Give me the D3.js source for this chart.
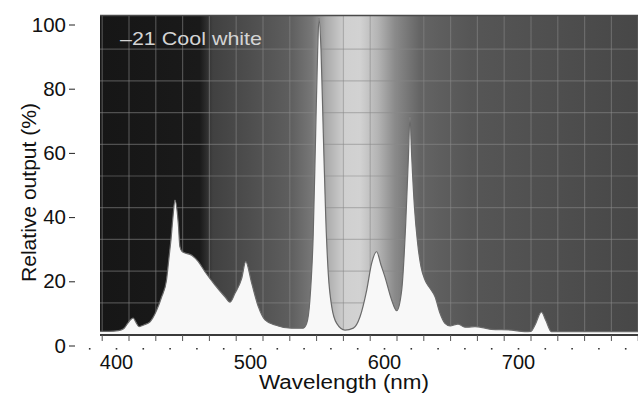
<!DOCTYPE html>
<html>
<head>
<meta charset="utf-8">
<script src="https://cdn.jsdelivr.net/npm/d3@7"></script>
<style>
  body { margin: 0; background: #fff; }
  text { font-family: "Liberation Sans", Arial, sans-serif; }
</style>
</head>
<body>
<div class="chart"></div>
<script>
// spectrum (nm, % relative output)
var wavelengths = [378, 385, 392, 396, 399, 401.5, 403.2, 405, 407.5, 411, 415.7, 420.7, 424.4, 428, 429.9, 431.3,
  432.8, 434.3, 436.8, 438, 439.8, 446.8, 451.7, 456.7, 464.2, 471.6, 475.4, 479.1, 484.1, 487.1, 491.6, 496.5,
  501.5, 509, 521.4, 530, 532.6, 535, 537.5, 539.3, 540.8, 541.8, 543.3, 545, 546.8, 548.7, 551.3, 555, 561.2,
  567.4, 572.4, 577.4, 581.1, 584.8, 588, 591, 596, 599.8, 603.5, 606.5, 608.5, 609.7, 611, 613, 615.4, 617.9,
  620.9, 624.6, 628.4, 632.1, 635.8, 639.6, 645.5, 650.7, 653, 658.2, 665.7, 670.4, 685.3, 695.3, 700, 703,
  707.8, 711, 715.2, 730, 760, 781];
var output = [1, 1, 1.2, 1.8, 3.5, 4.8, 5.2, 4, 2.5, 3, 4, 7.7, 11.9, 17.2, 24.5, 29.8,
  37, 42.4, 35, 27.7, 26.1, 25, 23, 19.8, 15.6, 11.9, 10.2, 13, 17.7, 23, 16.1, 8.8,
  4.6, 3, 2, 2, 3.5, 10.9, 31.9, 63.5, 89.7, 99.7, 89.7, 63.5, 37.2, 19.3, 8.8, 3.5, 1.4,
  2, 5.6, 14, 22.5, 26.1, 22, 18.2, 10.9, 7.5, 14, 35, 56, 68.7, 56, 40.3, 28.8, 21.4,
  17.2, 14.6, 11.9, 6.7, 3.5, 2.7, 3.3, 2.3, 2.3, 2.5, 2, 1.6, 1.4, 0.9, 1, 3,
  7.1, 4.5, 0.9, 0.9, 0.9, 0.9];
var xTicks = [400, 500, 600, 700];
var yTicks = [0, 20, 40, 60, 80, 100];
var lampLabel = "\u201321 Cool white";

var width = 638, height = 393;
var svg = d3.select(".chart").append("svg")
  .attr("width", width)
  .attr("height", height);

var plot = { left: 100, right: 638, top: 15, bottom: 335 };

// the scanned spectrum has its own grid...
var x = d3.scaleLinear().domain([400, 700]).range([129, 531]);
var y = d3.scaleLinear().domain([0, 100]).range([334.5, 17.5]);
// ...and the printed axes sit a bit off from it
var xAxisScale = d3.scaleLinear().domain([400, 700]).range([116, 518]);
var yAxisScale = d3.scaleLinear().domain([0, 100]).range([345.5, 24.5]);

var defs = svg.append("defs");
defs.append("clipPath").attr("id", "clip")
  .append("rect")
  .attr("x", plot.left).attr("y", plot.top)
  .attr("width", plot.right - plot.left).attr("height", plot.bottom - plot.top);

// background shading of the scan, dark at blue end, bright band near yellow
var shade = [
  [100, "#161616"], [200, "#1a1a1a"], [206, "#2c2c2c"], [213, "#414141"], [250, "#4e4e4e"],
  [290, "#5e5e5e"], [312, "#777777"], [326, "#aaaaaa"], [345, "#d0d0d0"], [360, "#d2d2d2"],
  [378, "#b4b4b4"], [395, "#8a8a8a"], [420, "#646464"], [470, "#565656"], [560, "#4e4e4e"], [638, "#474747"]
];
var grad = defs.append("linearGradient").attr("id", "bg")
  .attr("x1", 0).attr("x2", 1).attr("y1", 0).attr("y2", 0);
shade.forEach(function(s) {
  grad.append("stop")
    .attr("offset", (s[0] - plot.left) / (plot.right - plot.left))
    .attr("stop-color", s[1]);
});

var g = svg.append("g").attr("clip-path", "url(#clip)");
g.append("rect")
  .attr("x", plot.left).attr("y", plot.top)
  .attr("width", plot.right - plot.left).attr("height", plot.bottom - plot.top)
  .attr("fill", "url(#bg)");

var gridX = d3.range(380, 781, 20);
var gridY = d3.range(10, 100, 10);

g.selectAll(".vgrid").data(gridX).enter().append("line")
  .attr("class", "vgrid")
  .attr("x1", function(d) { return x(d); })
  .attr("x2", function(d) { return x(d); })
  .attr("y1", plot.top).attr("y2", plot.bottom)
  .attr("stroke", "#8a8a8a").attr("stroke-opacity", 0.5).attr("stroke-width", 1.2);

g.selectAll(".hgrid").data(gridY).enter().append("line")
  .attr("class", "hgrid")
  .attr("x1", plot.left).attr("x2", plot.right)
  .attr("y1", function(d) { return y(d); })
  .attr("y2", function(d) { return y(d); })
  .attr("stroke", "#8a8a8a").attr("stroke-opacity", 0.5).attr("stroke-width", 1.2);

var pts = wavelengths.map(function(w, i) { return [w, output[i]]; });

var area = d3.area()
  .x(function(d) { return x(d[0]); })
  .y0(y(0))
  .y1(function(d) { return y(d[1]); })
  .curve(d3.curveMonotoneX);
var line = d3.line()
  .x(function(d) { return x(d[0]); })
  .y(function(d) { return y(d[1]); })
  .curve(d3.curveMonotoneX);

g.append("path").datum(pts)
  .attr("d", area)
  .attr("fill", "#f8f8f8");
g.append("path").datum(pts)
  .attr("d", line)
  .attr("fill", "none")
  .attr("stroke", "#6a6a6a")
  .attr("stroke-width", 1.2);

g.append("text")
  .attr("x", 120).attr("y", 45)
  .attr("font-size", "19px")
  .attr("textLength", 142)
  .attr("lengthAdjust", "spacingAndGlyphs")
  .attr("fill", "#d4d4d4")
  .text(lampLabel);

// frame of the scan
svg.append("line")
  .attr("x1", plot.left).attr("x2", plot.right)
  .attr("y1", plot.top + 0.5).attr("y2", plot.top + 0.5)
  .attr("stroke", "#4a4a4a").attr("stroke-width", 1.5);
svg.append("line")
  .attr("x1", plot.left).attr("x2", plot.right)
  .attr("y1", plot.bottom).attr("y2", plot.bottom)
  .attr("stroke", "#3a3a3a").attr("stroke-width", 2);
svg.selectAll(".btick").data(gridX).enter().append("line")
  .attr("class", "btick")
  .attr("x1", function(d) { return x(d); })
  .attr("x2", function(d) { return x(d); })
  .attr("y1", plot.bottom).attr("y2", plot.bottom + 6)
  .attr("stroke", "#555").attr("stroke-width", 1);

// printed axes
var yAxis = svg.append("g")
  .attr("transform", "translate(75,0)")
  .call(d3.axisLeft(yAxisScale).tickValues(yTicks).tickSize(6).tickPadding(3));
yAxis.select(".domain").remove();
yAxis.selectAll("line").attr("stroke", "#222");
yAxis.selectAll("text").attr("font-size", "20.5px").attr("fill", "#111")
  .attr("font-family", "Liberation Sans, Arial, sans-serif");

var xAxis = svg.append("g")
  .attr("transform", "translate(0,348)")
  .call(d3.axisBottom(xAxisScale)
    .tickValues(d3.range(380, 781, 20))
    .tickSize(1.6).tickPadding(5)
    .tickFormat(function(d) { return xTicks.indexOf(d) >= 0 ? d : ""; }));
xAxis.select(".domain").remove();
xAxis.selectAll("line").attr("stroke", "#333").attr("stroke-width", 1.6);
xAxis.selectAll("text").attr("font-size", "20px").attr("fill", "#111")
  .attr("font-family", "Liberation Sans, Arial, sans-serif");

svg.append("text")
  .attr("x", 344).attr("y", 389)
  .attr("text-anchor", "middle")
  .attr("font-size", "20px")
  .attr("textLength", 170)
  .attr("lengthAdjust", "spacingAndGlyphs")
  .attr("fill", "#111")
  .text("Wavelength (nm)");

svg.append("text")
  .attr("transform", "translate(36,192.5) rotate(-90)")
  .attr("text-anchor", "middle")
  .attr("font-size", "20.5px")
  .attr("textLength", 179)
  .attr("lengthAdjust", "spacingAndGlyphs")
  .attr("fill", "#111")
  .text("Relative output (%)");
</script>
</body>
</html>
